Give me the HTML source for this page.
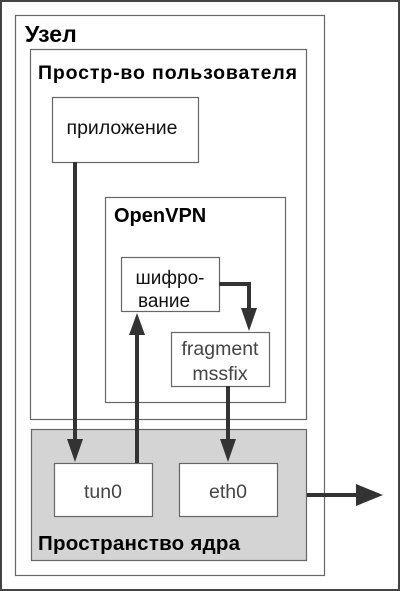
<!DOCTYPE html>
<html><head><meta charset="utf-8"><style>
html,body{margin:0;padding:0;background:#fff;}
svg{display:block;}
text{font-family:"Liberation Sans","DejaVu Sans",sans-serif;}
</style></head><body>
<svg width="400" height="591" viewBox="0 0 400 591" xmlns="http://www.w3.org/2000/svg">
<rect x="1" y="1" width="398" height="589" fill="#fff" stroke="#444" stroke-width="2"/>
<rect x="15.5" y="15.5" width="309" height="560" fill="#fff" stroke="#666" stroke-width="1.2"/>
<text x="25" y="42" font-size="23" font-weight="bold" fill="#000">Узел</text>
<rect x="30.5" y="49.5" width="276" height="370" fill="#fff" stroke="#666" stroke-width="1.2"/>
<text x="38" y="79" font-size="19.5" font-weight="bold" fill="#000" textLength="259">Простр-во пользователя</text>
<rect x="52.5" y="97.5" width="146" height="65" fill="#fff" stroke="#666" stroke-width="1.2"/>
<text x="122" y="134" font-size="19.5" text-anchor="middle" fill="#111">приложение</text>
<rect x="105.5" y="197.5" width="180" height="205" fill="#fff" stroke="#666" stroke-width="1.2"/>
<text x="114" y="222" font-size="20" font-weight="bold" fill="#000">OpenVPN</text>
<rect x="121.5" y="257.5" width="98" height="54" fill="#fff" stroke="#666" stroke-width="1.2"/>
<text x="170" y="284" font-size="19" text-anchor="middle" fill="#111">шифро-</text>
<text x="164" y="307" font-size="19" text-anchor="middle" fill="#111">вание</text>
<rect x="171.5" y="332.5" width="98" height="54" fill="#fff" stroke="#666" stroke-width="1.2"/>
<text x="220" y="355" font-size="19.5" text-anchor="middle" fill="#444">fragment</text>
<text x="220" y="380" font-size="19.5" text-anchor="middle" fill="#444">mssfix</text>
<rect x="31.5" y="429.5" width="275" height="131" fill="#d4d4d4" stroke="#666" stroke-width="1.2"/>
<rect x="54.5" y="463.5" width="98" height="53" fill="#fff" stroke="#666" stroke-width="1.2"/>
<text x="103" y="498" font-size="19.5" text-anchor="middle" fill="#444">tun0</text>
<rect x="179.5" y="463.5" width="98" height="53" fill="#fff" stroke="#666" stroke-width="1.2"/>
<text x="228" y="498" font-size="19.5" text-anchor="middle" fill="#444">eth0</text>
<text x="38" y="550" font-size="20.5" font-weight="bold" fill="#000" textLength="202">Пространство ядра</text>
<g fill="#333" stroke="#333">
<line x1="75" y1="162" x2="75" y2="440" stroke-width="4"/>
<polygon points="67,439 83,439 75,462" stroke="none"/>
<line x1="137" y1="463" x2="137" y2="334" stroke-width="4"/>
<polygon points="129,335 145,335 137,313" stroke="none"/>
<polyline points="219,284 249,284 249,310" fill="none" stroke-width="4"/>
<polygon points="241,308 257,308 249,331" stroke="none"/>
<line x1="228" y1="386" x2="228" y2="440" stroke-width="4"/>
<polygon points="220,439 236,439 228,462" stroke="none"/>
<line x1="307" y1="495" x2="358" y2="495" stroke-width="4"/>
<polygon points="356,484 356,506 383,495" stroke="none"/>
</g>
</svg>
</body></html>
